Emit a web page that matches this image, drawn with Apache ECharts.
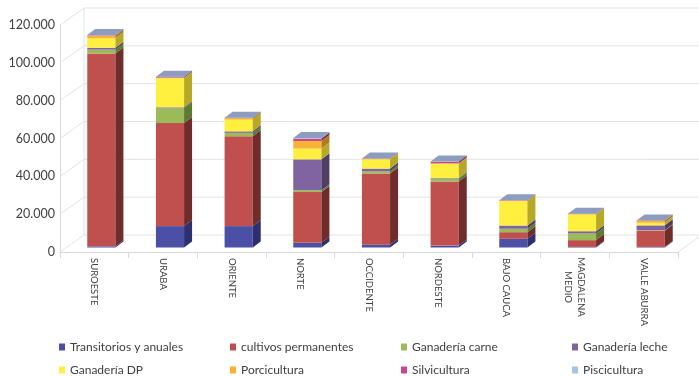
<!DOCTYPE html>
<html>
<head>
<meta charset="utf-8">
<script src="https://cdn.jsdelivr.net/npm/echarts@6/dist/echarts.min.js"></script>
<style>
  html, body { margin: 0; padding: 0; background: #fff; }
  #chart { width: 699px; height: 376px; }
</style>
</head>
<body>
<div id="chart"></div>
<script>
// datos por región
var categories = ['SUROESTE', 'URABA', 'ORIENTE', 'NORTE', 'OCCIDENTE', 'NORDESTE', 'BAJO CAUCA', 'MAGDALENA\nMEDIO', 'VALLE ABURRA'];
var seriesNames = ['Transitorios y anuales', 'cultivos permanentes', 'Ganadería carne', 'Ganadería leche',
                   'Ganadería DP', 'Porcicultura', 'Silvicultura', 'Piscicultura'];
var transitorios = [600, 11300, 11300, 2500, 1500, 1000, 4600, 300, 300];
var cultivos     = [102000, 54500, 47500, 26800, 37600, 33900, 3500, 3600, 8500];
var carne        = [2000, 7800, 1800, 1000, 1200, 1600, 1800, 3500, 300];
var leche        = [1000, 500, 800, 16300, 1400, 300, 1700, 1200, 2600];
var ganaderiaDP  = [5000, 15400, 6200, 5700, 4900, 7400, 12900, 8800, 1400];
var porcicultura = [1300, 300, 800, 4000, 300, 300, 300, 300, 1000];
var silvicultura = [300, 500, 200, 1300, 200, 900, 200, 200, 200];
var piscicultura = [200, 0, 0, 300, 0, 0, 0, 0, 0];
var yTicks = [0, 20000, 40000, 60000, 80000, 100000, 120000];

var values = [transitorios, cultivos, carne, leche, ganaderiaDP, porcicultura, silvicultura, piscicultura];

// colores (frente / lateral)
var frontColors = ['#4B4FA6', '#C0504D', '#9BBB59', '#8064A2', '#FFEF3E', '#F9B233', '#C9488D', '#A7C3E0'];
var sideColors  = ['#2D2F6E', '#6F2C2A', '#5E7A32', '#4E3D66', '#B8A82A', '#B07A1E', '#7A2F56', '#6F88A6'];
var topColor = '#8C9DC0';

var chart = echarts.init(document.getElementById('chart'));

// profundidad de las barras y de las paredes
var DX = 8, DY = 6;         // barra
var WX = 24, WY = 17;       // pared
var SHIFT_X = 7, SHIFT_Y = 4.5;

function makeBarSeries(s) {
    var data = categories.map(function (c, i) {
        var base = 0;
        for (var k = 0; k < s; k++) base += values[k][i];
        return [i, base, base + values[s][i]];
    });
    return {
        name: seriesNames[s],
        type: 'custom',
        z: 3,
        itemStyle: { color: frontColors[s] },
        encode: { x: 0, y: 2 },
        data: data,
        renderItem: function (params, api) {
            var idx = api.value(0);
            var p0 = api.coord([idx, api.value(1)]);
            var p1 = api.coord([idx, api.value(2)]);
            var w = api.size([1, 0])[0] * 0.41;
            var x = p0[0] - w / 2 + SHIFT_X;
            var yb = p0[1] - SHIFT_Y;
            var yt = p1[1] - SHIFT_Y;
            var children = [];
            if (yb - yt > 0.01) {
                children.push({
                    type: 'rect',
                    shape: { x: x, y: yt, width: w, height: yb - yt },
                    style: { fill: frontColors[s] }
                });
                children.push({
                    type: 'polygon',
                    shape: { points: [[x + w, yb], [x + w + DX, yb - DY], [x + w + DX, yt - DY], [x + w, yt]] },
                    style: { fill: sideColors[s] }
                });
            }
            // tapa superior solo en la última serie
            if (s === values.length - 1) {
                children.push({
                    type: 'polygon',
                    shape: { points: [[x, yt], [x + DX, yt - DY], [x + w + DX, yt - DY], [x + w, yt]] },
                    style: { fill: topColor }
                });
            }
            return { type: 'group', children: children };
        }
    };
}

// lineas de la pared del fondo
var wallSeries = {
    type: 'custom',
    silent: true,
    z: 1,
    encode: { x: 0, y: 1 },
    data: yTicks.map(function (v) { return [0, v]; }),
    renderItem: function (params, api) {
        var cs = params.coordSys;
        var y = api.coord([0, api.value(1)])[1];
        var lineStyle = { stroke: '#E3E3E3', lineWidth: 1 };
        var children = [
            { type: 'line', shape: { x1: cs.x, y1: y, x2: cs.x + WX, y2: y - WY }, style: lineStyle },
            { type: 'line', shape: { x1: cs.x + WX, y1: y - WY, x2: cs.x + cs.width + WX, y2: y - WY }, style: lineStyle }
        ];
        if (api.value(1) === 0) {
            children.push({ type: 'line', shape: { x1: cs.x + cs.width, y1: y, x2: cs.x + cs.width + WX, y2: y - WY }, style: lineStyle });
            children.push({ type: 'line', shape: { x1: cs.x + WX, y1: y - WY, x2: cs.x + WX, y2: cs.y - WY }, style: lineStyle });
        }
        return { type: 'group', children: children };
    }
};

var series = [wallSeries];
for (var s = 0; s < values.length; s++) series.push(makeBarSeries(s));

var legends = [0, 1, 2, 3].map(function (col) {
    return {
        orient: 'vertical',
        left: 59 + col * 171,
        top: 341,
        padding: 0,
        itemGap: 11,
        itemWidth: 6,
        itemHeight: 7,
        icon: 'rect',
        selectedMode: false,
        textStyle: { fontFamily: 'Lato', fontSize: 12, lineHeight: 12, color: '#404040' },
        data: [
            { name: seriesNames[col], itemStyle: { color: frontColors[col] } },
            { name: seriesNames[col + 4], itemStyle: { color: frontColors[col + 4] } }
        ]
    };
});

var option = {
    backgroundColor: '#fff',
    animation: false,
    legend: legends,
    grid: { left: 60, right: 21, top: 25, bottom: 124 },
    xAxis: {
        type: 'category',
        data: categories,
        axisLine: { lineStyle: { color: '#D9D9D9' } },
        axisTick: { show: true, length: 6, lineStyle: { color: '#D9D9D9' } },
        axisLabel: {
            interval: 0,
            rotate: -90,
            margin: 6,
            fontFamily: 'Lato',
            fontSize: 9.5,
            color: '#404040',
            formatter: function (v) {
                if (v.indexOf('\n') < 0) return v;
                return v.split('\n').map(function (l) { return '{c|' + l + '}'; }).join('\n');
            },
            rich: {
                c: { width: 58, align: 'center', fontFamily: 'Lato', fontSize: 9.5, color: '#404040', lineHeight: 13 }
            }
        }
    },
    yAxis: {
        type: 'value',
        min: 0,
        max: 120000,
        interval: 20000,
        axisLine: { show: true, lineStyle: { color: '#D9D9D9' } },
        axisTick: { show: false },
        splitLine: { show: false },
        axisLabel: {
            margin: 5,
            fontFamily: 'Lato',
            fontSize: 12.5,
            color: '#404040',
            formatter: function (v) {
                return String(v).replace(/\B(?=(\d{3})+(?!\d))/g, '.');
            }
        }
    },
    series: series
};

chart.setOption(option);
</script>
</body>
</html>
